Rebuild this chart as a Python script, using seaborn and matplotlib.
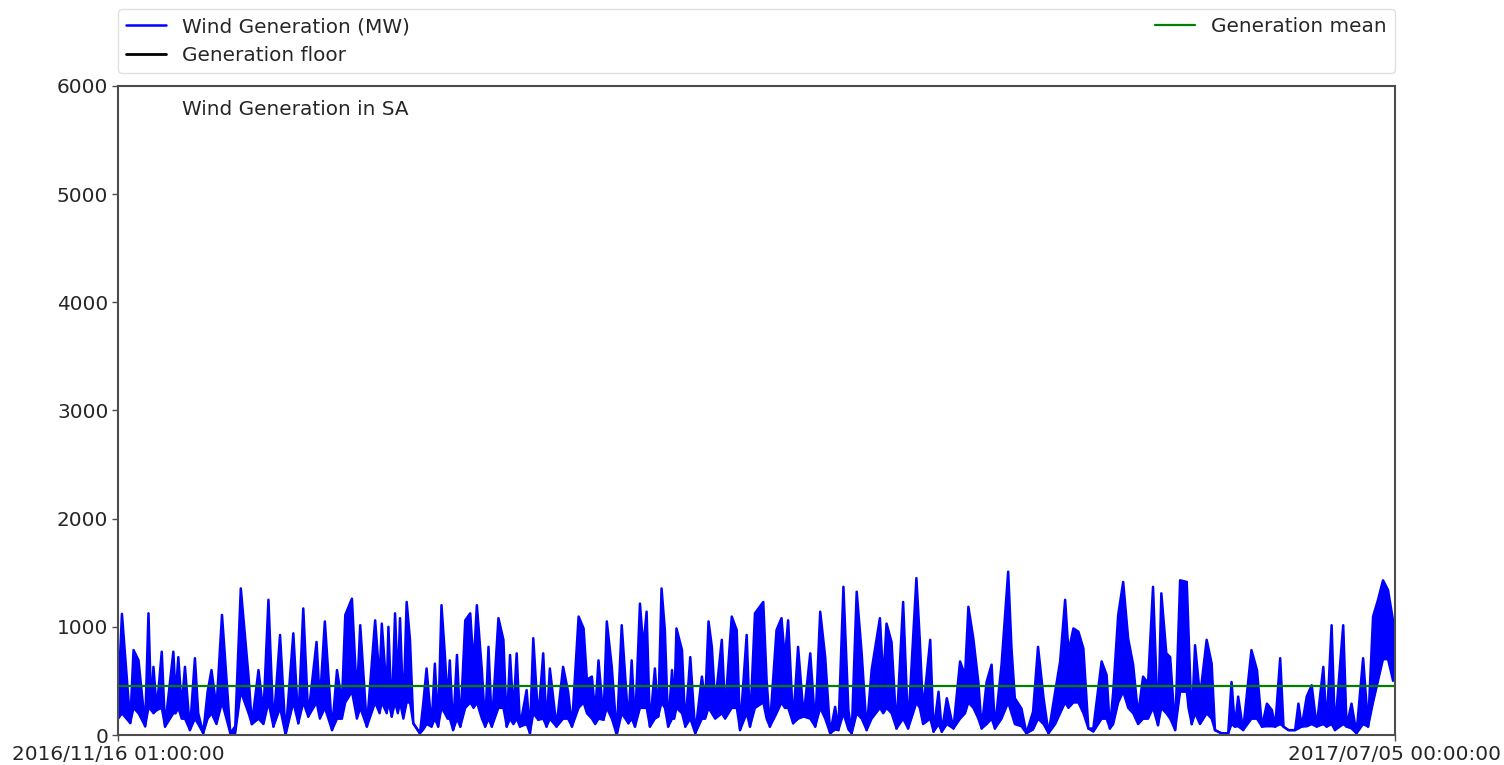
import pandas as pd
import matplotlib
matplotlib.use("Agg")
import matplotlib.pyplot as plt
import seaborn as sns

# readings taken off the chart: days after the first timestamp,
# the top of the trace in that column (MW) and the bottom of the trace in that column (MW)
day_offset = [
    0.0, 0.7, 2.2, 2.8, 3.7, 4.9, 5.5, 6.0, 6.4, 7.0, 7.9, 8.5, 10.0, 10.4, 10.9,
    11.5, 12.1, 13.0, 13.9, 14.5, 15.4, 16.2, 16.9, 17.8, 18.8, 20.3, 21.2, 22.2,
    23.6, 24.2, 25.4, 26.3, 27.2, 28.1, 29.3, 30.3, 31.7, 32.6, 33.5, 34.4, 35.9,
    36.5, 37.4, 38.7, 39.6, 40.5, 41.1, 42.3, 43.2, 43.8, 45.0, 46.5, 47.3, 47.7,
    48.6, 48.9, 49.5, 50.1, 50.6, 51.0, 51.6, 52.2, 52.8, 53.4, 54.6, 55.2, 55.8,
    56.7, 57.3, 57.9, 58.5, 59.1, 59.6, 60.0, 60.6, 61.3, 61.9, 62.8, 63.7, 64.3,
    64.9, 65.8, 66.4, 67.0, 67.6, 68.8, 69.7, 70.3, 70.9, 71.5, 72.1, 72.7, 73.9,
    74.5, 75.1, 76.0, 76.9, 77.5, 78.1, 79.3, 80.5, 81.4, 82.1, 83.3, 84.2, 84.8,
    85.7, 86.3, 86.9, 87.8, 88.4, 89.3, 90.2, 91.1, 92.3, 92.9, 93.5, 94.4, 95.0,
    95.6, 96.2, 97.1, 97.7, 98.3, 98.9, 99.5, 100.2, 100.6, 101.0, 102.0, 102.6,
    103.5, 104.4, 105.6, 106.2, 106.8, 107.4, 108.0, 109.2, 109.8, 111.0, 111.9,
    112.5, 113.7, 114.3, 115.2, 116.7, 117.3, 117.9, 119.1, 120.0, 120.6, 121.2,
    122.1, 123.0, 124.0, 125.2, 126.1, 127.0, 127.9, 128.8, 129.7, 130.3, 131.2,
    132.1, 132.7, 133.6, 134.5, 135.4, 136.3, 137.8, 138.4, 139.0, 139.9, 140.8,
    142.0, 142.9, 143.8, 144.4, 145.0, 145.6, 146.9, 147.5, 148.4, 149.0, 149.9,
    151.1, 152.3, 153.2, 153.8, 154.7, 155.6, 156.2, 157.1, 158.0, 158.6, 159.8,
    161.0, 161.6, 162.2, 163.4, 164.3, 165.5, 166.4, 167.4, 168.3, 169.5, 170.4,
    171.3, 171.9, 172.8, 173.7, 174.6, 175.5, 176.4, 177.9, 178.8, 179.4, 180.0,
    180.9, 181.8, 182.7, 183.6, 184.5, 185.4, 186.3, 187.2, 188.1, 188.7, 189.6,
    190.3, 191.2, 192.1, 193.3, 193.6, 194.2, 194.8, 195.7, 196.9, 197.8, 198.4,
    199.6, 200.8, 201.4, 202.0, 202.6, 203.5, 205.0, 206.0, 206.9, 207.8, 208.7,
    209.3, 210.2, 210.8, 211.7, 212.9, 213.5, 214.1, 215.0, 215.9, 216.8, 218.0,
    218.6, 219.5, 220.1, 221.6, 222.2, 223.1, 224.0, 225.2, 226.1, 227.0, 227.9,
    228.8, 229.7, 230.6, 230.96,
]
wind_mw = [
    300, 1120, 110, 785, 690, 80, 1125, 230, 630, 230, 770, 77, 770, 350, 720,
    250, 630, 45, 710, 200, 15, 400, 600, 250, 1110, 15, 80, 1355,
    540, 100, 600, 200, 1250, 77, 925, 0, 940, 108, 1170, 170, 860,
    300, 1050, 45, 600, 300, 1110, 1260, 350, 1015, 77, 1060, 500, 1030,
    385, 1000, 170, 1125, 450, 1080, 200, 1230, 880, 108, 15, 290, 615,
    77, 660, 77, 1200, 750, 300, 690, 45, 740, 77, 1060, 1125, 630,
    1200, 600, 77, 815, 77, 1080, 880, 77, 740, 200, 755, 77, 415,
    15, 895, 140, 755, 77, 615, 77, 630, 400, 77, 1095, 985, 510,
    540, 200, 690, 140, 1050, 630, 0, 1015, 108, 690, 77, 1215, 800,
    1140, 77, 615, 170, 1355, 970, 77, 600, 250, 985, 785, 77,
    720, 15, 540, 300, 1050, 815, 290, 880, 230, 1095, 970,
    45, 925, 77, 1125, 1230, 510, 77, 970, 1080, 700, 1060,
    108, 815, 170, 755, 77, 1140, 720, 15, 260, 45, 1370,
    230, 15, 1325, 755, 45, 600, 1080, 500, 1030, 860, 60,
    1230, 60, 900, 1450, 890, 215, 880, 30, 400, 30, 340,
    60, 680, 550, 1185, 890, 490, 60, 490, 650, 60, 650,
    1510, 800, 340, 245, 15, 215, 815, 340, 15, 400, 680,
    1250, 770, 985, 955, 800, 60, 60, 680, 555, 60, 400,
    1110, 1415, 890, 650, 185, 540, 480, 1370, 90, 1310, 755,
    720, 45, 1430, 1415, 970, 100, 830, 355, 880, 660, 45,
    15, 15, 490, 77, 355, 45, 785, 600, 77, 290, 230,
    77, 710, 77, 45, 45, 290, 77, 355, 460, 77, 630,
    77, 1015, 45, 1015, 77, 290, 15, 710, 77, 1095, 1250,
    1430, 1340, 1060, 540,
]
wind_low = [
    150, 200, 110, 250, 200, 80, 250, 230, 200, 230, 250, 77, 200, 200, 250,
    150, 150, 45, 150, 100, 15, 150, 200, 100, 300, 15, 15, 400,
    200, 100, 150, 100, 300, 77, 250, 0, 300, 108, 300, 170, 300,
    150, 250, 45, 150, 150, 300, 400, 150, 250, 77, 300, 200, 300,
    200, 300, 170, 300, 200, 300, 150, 300, 300, 108, 15, 50, 100,
    77, 150, 77, 250, 200, 150, 150, 45, 150, 77, 250, 300, 250,
    300, 150, 77, 150, 77, 250, 250, 77, 150, 100, 150, 77, 100,
    15, 200, 140, 150, 77, 150, 77, 150, 150, 77, 250, 300, 200,
    150, 100, 150, 140, 250, 150, 0, 200, 108, 150, 77, 250, 250,
    250, 77, 150, 170, 300, 250, 77, 150, 150, 250, 200, 77,
    150, 15, 150, 150, 250, 200, 150, 200, 150, 250, 250,
    45, 200, 77, 250, 300, 150, 77, 200, 300, 250, 250,
    108, 150, 170, 150, 77, 250, 150, 15, 50, 45, 200,
    50, 15, 200, 150, 45, 150, 250, 200, 250, 200, 60,
    150, 60, 200, 300, 250, 100, 150, 30, 100, 30, 100,
    60, 150, 200, 300, 250, 150, 60, 100, 150, 60, 150,
    300, 200, 100, 80, 15, 50, 150, 100, 15, 100, 200,
    300, 250, 300, 300, 200, 60, 30, 150, 150, 60, 100,
    300, 400, 250, 200, 100, 150, 150, 250, 90, 250, 200,
    150, 45, 400, 400, 250, 100, 200, 100, 200, 150, 45,
    15, 15, 100, 77, 80, 45, 150, 150, 77, 80, 80,
    77, 100, 77, 45, 45, 60, 77, 80, 100, 77, 100,
    77, 100, 45, 100, 77, 60, 15, 100, 77, 300, 500,
    700, 700, 500, 540,
]
gen_mean = 455
gen_floor = 0
x_tick_labels = ["2016/11/16 01:00:00", "2017/07/05 00:00:00"]
y_ticks = [0, 1000, 2000, 3000, 4000, 5000, 6000]

start = pd.Timestamp("2016-11-16 01:00:00")
end = pd.Timestamp("2017-07-05 00:00:00")

df = pd.DataFrame({
    "time": start + pd.to_timedelta(day_offset, unit="D"),
    "mw": wind_mw,
    "low": wind_low,
})

sns.set_style("white")
plt.rcParams["font.family"] = ["DejaVu Sans"]
plt.rcParams["font.size"] = 14.4

fig = plt.figure(figsize=(15.04, 7.65), dpi=100)
ax = fig.add_axes([0.0785, 0.0392, 0.849, 0.8484])

# the hourly trace is so dense that it reads as a band between its low and high points
ax.fill_between(df["time"], df["low"], df["mw"], color="blue", linewidth=0)
sns.lineplot(data=df, x="time", y="low", ax=ax, color="blue", linewidth=1.6,
             estimator=None)
sns.lineplot(data=df, x="time", y="mw", ax=ax, color="blue", linewidth=1.8,
             estimator=None, label="Wind Generation (MW)")
ax.axhline(gen_floor, color="black", linewidth=2, label="Generation floor")
ax.axhline(gen_mean, color="green", linewidth=1.6, label="Generation mean")

ax.set_xlim(start, end)
ax.set_ylim(0, 6000)
ax.set_xticks([start, end])
ax.set_xticklabels(x_tick_labels, fontsize=14.4)
ax.set_yticks(y_ticks)
ax.set_yticklabels([str(v) for v in y_ticks], fontsize=14.4)
ax.set_xlabel("")
ax.set_ylabel("")
ax.tick_params(axis="both", direction="out", length=4, width=1, color="0.3",
               left=True, bottom=True, pad=3, labelcolor="0.15")

for spine in ax.spines.values():
    spine.set_color("0.3")
    spine.set_linewidth(1.5)

ax.text(0.05, 0.963, "Wind Generation in SA", transform=ax.transAxes,
        va="center", ha="left", fontsize=14.4, color="0.15")

ax.legend(bbox_to_anchor=(0, 1.02, 1, 0.102), loc="lower left", ncol=2,
          mode="expand", borderaxespad=0, frameon=True, edgecolor="0.85",
          fontsize=14.4, handlelength=2.0, labelcolor="0.15")

plt.savefig("out.png", dpi=100)
